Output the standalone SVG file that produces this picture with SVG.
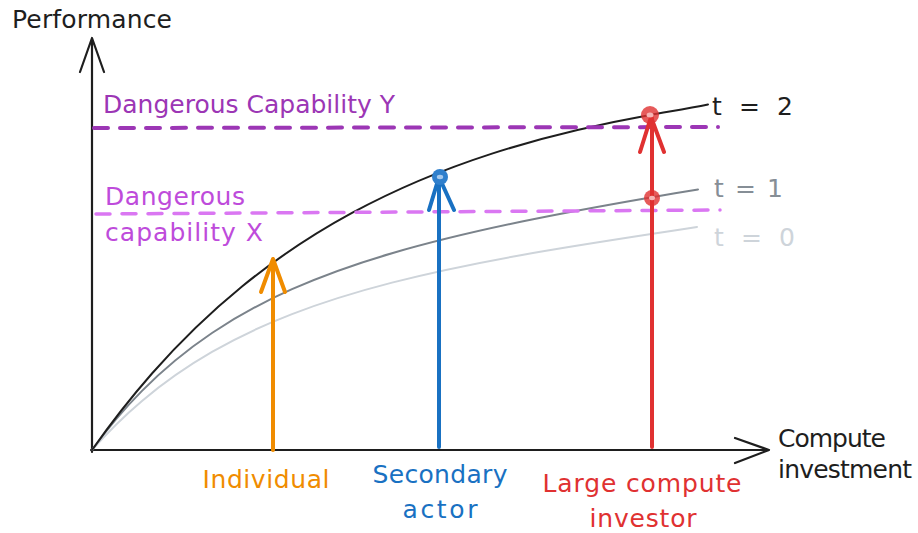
<svg xmlns="http://www.w3.org/2000/svg" width="918" height="533" viewBox="0 0 918 533">
<style>
text{font-family:"DejaVu Sans","Liberation Sans",sans-serif;font-size:25px}
.ax{fill:none;stroke:#1e1e1e;stroke-width:2.2;stroke-linecap:round;stroke-linejoin:round}
.cv{fill:none;stroke-width:2;stroke-linecap:round}
.ar{fill:none;stroke-width:4;stroke-linecap:round;stroke-linejoin:round}
.dash{fill:none;stroke-linecap:round;stroke-dasharray:14 12}
</style>
<rect width="918" height="533" fill="#ffffff"/>
<g id="axes">
<path class="ax" d="M92,452 L92,38 M80,72 L92,38 L104,72"/>
<path class="ax" d="M91,450 L768,450 M735,438 L769,450 L735,463"/>
<text x="12" y="28" font-size="23" fill="#1e1e1e" textLength="160" lengthAdjust="spacing">Performance</text>
<text x="778" y="447" fill="#1e1e1e" textLength="108" lengthAdjust="spacing">Compute</text>
<text x="778" y="478" fill="#1e1e1e" textLength="134" lengthAdjust="spacing">investment</text>
</g>
<g id="curve-t0">
<path class="cv" stroke="#ced4da" d="M92,450 C108.7,431.1 125.3,415 142,400.9 C165.3,381.2 188.7,365.3 212,351.9 C238.7,336.6 265.3,324.4 292,314.1 C325.3,301.2 358.7,291.2 392,282.6 C435.3,271.5 478.7,262.7 522,255 C580.3,244.6 638.7,236.1 697,227"/>
<text x="714" y="246" fill="#ced4da" textLength="81" lengthAdjust="spacing">t = 0</text>
</g>
<g id="curve-t1">
<path class="cv" stroke="#7b838b" d="M92,450 C108.7,427 125.3,407.7 142,390.9 C165.3,367.3 188.7,348.7 212,333 C238.7,315.1 265.3,301.1 292,289.2 C325.3,274.4 358.7,263 392,253.2 C435.3,240.5 478.7,230.5 522,221.5 C565.3,212.5 608.7,204.7 652,197.2 C667.3,194.6 682.7,192 698,189.4"/>
<text x="714" y="197" fill="#868e96" textLength="69" lengthAdjust="spacing">t = 1</text>
</g>
<g id="curve-t2">
<path class="cv" stroke="#1e1e1e" d="M92,450 C112,421.6 132,396.3 152,373.5 C182,339.4 212,311 242,286.5 C278.7,256.6 315.3,232.8 352,212.9 C398.7,187.6 445.3,168.7 492,153.6 C544.7,136.6 597.3,124.5 650,115 C669.3,111.5 688.7,108.4 708,104.5"/>
<text x="712" y="115" fill="#1e1e1e" textLength="81" lengthAdjust="spacing">t = 2</text>
</g>
<g id="threshold-y">
<path class="dash" stroke="#9c36b5" stroke-width="4" d="M94,128 L718,127"/>
<text x="103" y="113" fill="#9c36b5" textLength="292" lengthAdjust="spacing">Dangerous Capability Y</text>
</g>
<g id="threshold-x">
<path class="dash" stroke="#da77f2" stroke-width="3.5" d="M96,214 L720,210"/>
<text x="105" y="205" fill="#be4bdb" textLength="140" lengthAdjust="spacing">Dangerous</text>
<text x="105" y="241" fill="#be4bdb" textLength="158" lengthAdjust="spacing">capability X</text>
</g>
<g id="connectors">
<path class="ar" stroke="#f08c00" d="M273,450 L273,260 M261,292 L273,259 L285,292"/>
<path class="ar" stroke="#1971c2" d="M439,447 L439,178 M429,210 L439,177 L454,210"/>
<path class="ar" stroke="#e03131" d="M652,447 L652,118 M640,152 L651,117 L664,152"/>
</g>
<g id="individual">
<text x="266" y="488" text-anchor="middle" fill="#f08c00" textLength="127" lengthAdjust="spacing">Individual</text>
</g>
<g id="secondary-actor">
<circle cx="440" cy="177" r="8" fill="#2f7fcc"/>
<ellipse cx="440" cy="177" rx="3.2" ry="2.2" fill="#a5c8ec"/>
<text x="440" y="483" text-anchor="middle" fill="#1971c2" textLength="135" lengthAdjust="spacing">Secondary</text>
<text x="440" y="518" text-anchor="middle" fill="#1971c2" textLength="75" lengthAdjust="spacing">actor</text>
</g>
<g id="large-investor">
<circle cx="650" cy="115" r="9" fill="#e03131" fill-opacity="0.8"/>
<ellipse cx="650" cy="115" rx="3.5" ry="2.5" fill="#f5b5b5"/>
<circle cx="652" cy="198" r="8" fill="#e03131" fill-opacity="0.8"/>
<ellipse cx="652" cy="198" rx="3" ry="2.2" fill="#f5b5b5"/>
<text x="642" y="492" text-anchor="middle" fill="#e03131" textLength="199" lengthAdjust="spacing">Large compute</text>
<text x="643" y="527" text-anchor="middle" fill="#e03131" textLength="107" lengthAdjust="spacing">investor</text>
</g>
</svg>
